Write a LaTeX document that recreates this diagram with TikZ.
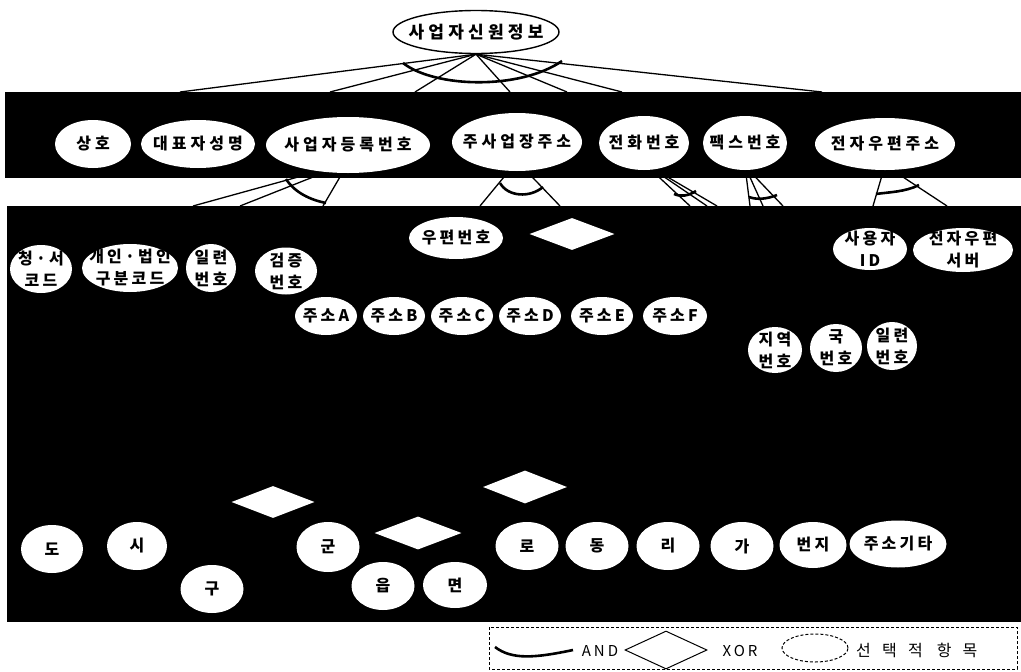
\documentclass[tikz,border=0pt]{standalone}
\usepackage{fontspec}
\setmainfont{Noto Sans CJK KR}
\newfontfamily\krsp{Noto Sans CJK KR}[LetterSpace=25]
\newfontfamily\krsq{Noto Sans CJK KR}[LetterSpace=20]
\newfontfamily\krwide{Noto Sans CJK KR}[LetterSpace=70]
\usetikzlibrary{shapes.geometric}
\pgfdeclarelayer{bg}
\pgfdeclarelayer{edges}
\pgfsetlayers{bg,edges,main}
\tikzset{
  rootnode/.style={ellipse, draw=black, line width=1.4pt, fill=white, inner sep=0pt},
  roottext/.style={inner sep=0pt, font=\krsp\bfseries\fontsize{17}{20}\selectfont},
  lvone/.style={ellipse, fill=white, inner sep=0pt},
  onetext/.style={inner sep=0pt, font=\krsp\bfseries\fontsize{16}{20}\selectfont},
  lvtwo/.style={ellipse, fill=white, inner sep=0pt},
  twotext/.style={inner sep=0pt, align=center, font=\krsq\bfseries\fontsize{16}{22}\selectfont},
  xorbox/.style={diamond, fill=white, inner sep=0pt},
  conn/.style={line width=1.3pt},
  andarc/.style={line width=2.6pt},
  lgtext/.style={inner sep=0pt, font=\krsq\fontsize{15}{18}\selectfont},
}
\begin{document}
\begin{tikzpicture}[x=1pt,y=-1pt]
\useasboundingbox (0,0) rectangle (1021,672);
\begin{pgfonlayer}{bg}
  \fill[white] (0,0) rectangle (1021,672);
  \fill[black] (5,92) rectangle (1021,178);
  \fill[black] (7,206) rectangle (1021,622);
\end{pgfonlayer}

% root
\node[rootnode, minimum width=166pt, minimum height=43pt, label={[roottext]center:사업자신원정보}] (root) at (476,32) {};

% level 1
\node[lvone, minimum width=76pt, minimum height=48pt, label={[onetext]center:상호}]  (sh)  at (93,144)  {};
\node[lvone, minimum width=114pt, minimum height=48pt, label={[onetext]center:대표자성명}] (rep) at (198,144) {};
\node[lvone, minimum width=164pt, minimum height=56pt, label={[onetext]center:사업자등록번호}] (brn) at (348,145) {};
\node[lvone, minimum width=130pt, minimum height=58pt, label={[onetext]center:주사업장주소}] (adr) at (517,142) {};
\node[lvone, minimum width=90pt, minimum height=54pt, label={[onetext]center:전화번호}]  (tel) at (644,143) {};
\node[lvone, minimum width=84pt, minimum height=54pt, label={[onetext]center:팩스번호}]  (fax) at (745,143) {};
\node[lvone, minimum width=140pt, minimum height=52pt, label={[onetext]center:전자우편주소}] (eml) at (885,144) {};

% level 2
\node[lvtwo, minimum width=62pt, minimum height=48pt, label={[twotext]center:청·서\\코드}]  (c1) at (41,269)  {};
\node[lvtwo, minimum width=96pt, minimum height=48pt, label={[twotext]center:개인·법인\\구분코드}]  (c2) at (130,268) {};
\node[lvtwo, minimum width=50pt, minimum height=48pt, label={[twotext]center:일련\\번호}]  (c3) at (211,268) {};
\node[lvtwo, minimum width=62pt, minimum height=47pt, label={[twotext]center:검증\\번호}]  (c4) at (286,271) {};
\node[lvtwo, minimum width=94pt, minimum height=42pt, label={[twotext]center:우편번호}]  (post) at (456,238) {};
\node[xorbox, minimum width=85pt, minimum height=32pt] (x1) at (572,234) {};
\node[lvtwo, minimum width=74pt, minimum height=42pt, label={[twotext]center:사용자\\ID}]  (uid) at (870,249) {};
\node[lvtwo, minimum width=100pt, minimum height=44pt, label={[twotext]center:전자우편\\서버}] (srv) at (963,250) {};

\node[lvtwo, minimum width=62pt, minimum height=38pt, label={[twotext]center:주소A}] (aA) at (326,316) {};
\node[lvtwo, minimum width=62pt, minimum height=38pt, label={[twotext]center:주소B}] (aB) at (394,316) {};
\node[lvtwo, minimum width=62pt, minimum height=38pt, label={[twotext]center:주소C}] (aC) at (462,316) {};
\node[lvtwo, minimum width=62pt, minimum height=38pt, label={[twotext]center:주소D}] (aD) at (530,316) {};
\node[lvtwo, minimum width=62pt, minimum height=38pt, label={[twotext]center:주소E}] (aE) at (602,316) {};
\node[lvtwo, minimum width=64pt, minimum height=38pt, label={[twotext]center:주소F}] (aF) at (675,316) {};

\node[lvtwo, minimum width=54pt, minimum height=46pt, label={[twotext]center:지역\\번호}] (t1) at (775,350) {};
\node[lvtwo, minimum width=52pt, minimum height=48pt, label={[twotext]center:국\\번호}] (t2) at (836,348) {};
\node[lvtwo, minimum width=50pt, minimum height=48pt, label={[twotext]center:일련\\번호}] (t3) at (892,346) {};

\node[xorbox, minimum width=83pt, minimum height=32pt] (xa) at (273,502) {};
\node[xorbox, minimum width=84pt, minimum height=33pt] (xb) at (525,487) {};
\node[xorbox, minimum width=87pt, minimum height=33pt] (xc) at (418,533) {};

\node[lvtwo, minimum width=62pt, minimum height=48pt, label={[twotext]center:도}] (do)  at (52,549)  {};
\node[lvtwo, minimum width=60pt, minimum height=48pt, label={[twotext]center:시}] (si)  at (137,546) {};
\node[lvtwo, minimum width=63pt, minimum height=48pt, label={[twotext]center:구}] (gu)  at (212,589) {};
\node[lvtwo, minimum width=63pt, minimum height=50pt, label={[twotext]center:군}] (gun) at (328,547) {};
\node[lvtwo, minimum width=63pt, minimum height=48pt, label={[twotext]center:읍}] (eup) at (383,586) {};
\node[lvtwo, minimum width=64pt, minimum height=46pt, label={[twotext]center:면}] (myn) at (455,585) {};
\node[lvtwo, minimum width=63pt, minimum height=48pt, label={[twotext]center:로}] (ro)  at (527,546) {};
\node[lvtwo, minimum width=63pt, minimum height=48pt, label={[twotext]center:동}] (dng) at (597,546) {};
\node[lvtwo, minimum width=63pt, minimum height=48pt, label={[twotext]center:리}] (ri)  at (668,546) {};
\node[lvtwo, minimum width=63pt, minimum height=48pt, label={[twotext]center:가}] (ga)  at (742,546) {};
\node[lvtwo, minimum width=67pt, minimum height=46pt, label={[twotext]center:번지}] (bj)  at (813,545) {};
\node[lvtwo, minimum width=97pt, minimum height=47pt, label={[twotext]center:주소기타}] (etc) at (898,544) {};

% free ends of connectors at the band edges
\coordinate (r1) at (180,92);
\coordinate (r2) at (330,92);
\coordinate (r3) at (415,92);
\coordinate (r4) at (510,92);
\coordinate (r5) at (567,92);
\coordinate (r6) at (622,92);
\coordinate (r7) at (822,92);

\coordinate (b1) at (193,206);
\coordinate (b2) at (240,206);
\coordinate (b3) at (323,206);
\coordinate (a1) at (480,206);
\coordinate (a2) at (560,206);
\coordinate (p1) at (690,206);
\coordinate (p2) at (707,206);
\coordinate (p3) at (717,206);
\coordinate (f1) at (750,206);
\coordinate (f2) at (763,206);
\coordinate (f3) at (783,206);
\coordinate (e1) at (873,206);
\coordinate (e2) at (947,206);

\begin{pgfonlayer}{edges}
  \foreach \t in {r1,r2,r3,r4,r5,r6,r7} \draw[conn] (root.south) -- (\t);
  \draw[andarc] (403,63) .. controls (435,88) and (520,90) .. (562,61);

  \foreach \t in {b1,b2,b3} \draw[conn] ([yshift=10pt]brn.south) -- (\t);
  \draw[andarc] (286,179) .. controls (295,193) and (311,200) .. (326,203);

  \foreach \t in {a1,a2} \draw[conn] ([yshift=10pt]adr.south) -- (\t);
  \draw[andarc] (500,183) .. controls (508,197) and (530,198) .. (543,187);

  \foreach \t in {p1,p2,p3} \draw[conn] ([yshift=7pt]tel.south) -- (\t);
  \draw[andarc] (674,194) .. controls (681,197) and (688,196) .. (696,191);

  \foreach \t in {f1,f2,f3} \draw[conn] ([yshift=4pt]fax.south) -- (\t);
  \draw[andarc] (749,197) .. controls (757,200) and (767,199) .. (777,195);

  \foreach \t in {e1,e2} \draw[conn] ([yshift=5pt]eml.south) -- (\t);
  \draw[andarc] (876,194) .. controls (890,192) and (905,192) .. (919,185);
\end{pgfonlayer}

% legend
\draw[line width=1pt, dash pattern=on 3pt off 2pt] (489,627) rectangle (1017,669);
\draw[andarc] (495,647) .. controls (512,660) and (535,658) .. (573,650);
\node[lgtext] (lgand) at (600,651) {AND};
\node[diamond, draw, line width=1pt, inner sep=0pt, minimum width=82pt, minimum height=38pt] (lgxor) at (666,650) {};
\node[lgtext] (lgxort) at (740,651) {XOR};
\node[ellipse, draw, line width=1pt, dash pattern=on 3pt off 2pt, inner sep=0pt, minimum width=66pt, minimum height=28pt] (lgopt) at (815,648) {};
\node[lgtext, anchor=west, font=\krwide\fontsize{16}{18}\selectfont] (lgoptt) at (856,650) {선택적\hspace{14pt}항목};
\end{tikzpicture}
\end{document}
